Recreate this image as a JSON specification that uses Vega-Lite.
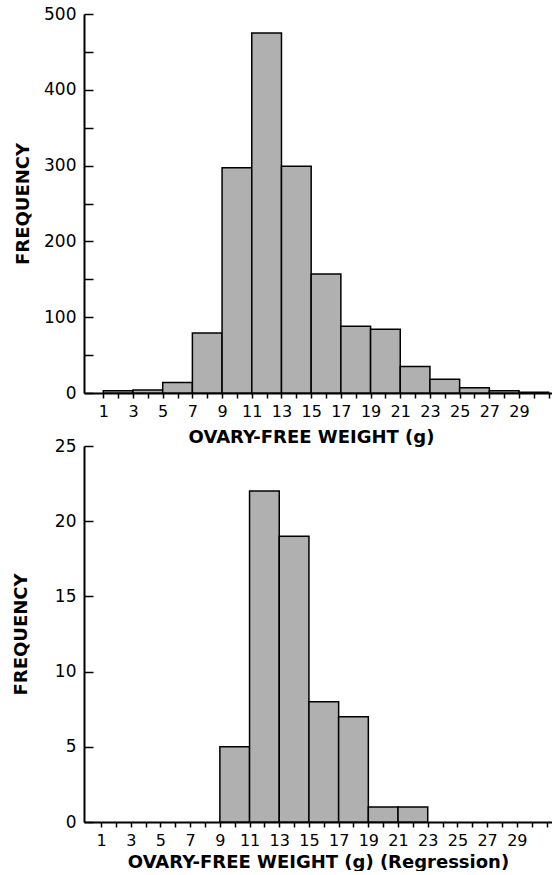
{
  "$schema": "https://vega.github.io/schema/vega-lite/v6.json",
  "padding": {"left": 12, "top": 5, "right": 0, "bottom": 0},
  "background": "white",
  "config": {
    "view": {"stroke": null},
    "font": "DejaVu Sans",
    "axis": {
      "grid": false,
      "domainColor": "black",
      "domainWidth": 2,
      "tickColor": "black",
      "tickWidth": 1.5,
      "labelColor": "black",
      "labelFont": "DejaVu Sans",
      "labelFontSize": 16,
      "labelFontWeight": "normal",
      "labelOverlap": false,
      "labelFlush": false,
      "titleColor": "black",
      "titleFont": "DejaVu Sans",
      "titleFontSize": 18,
      "titleFontWeight": "bold"
    },
    "axisX": {"tickSize": 5, "labelPadding": 5, "titlePadding": 8},
    "axisY": {"tickSize": -9, "labelPadding": 17, "labelFontSize": 17}
  },
  "datasets": {
    "all_fish": [
      {"lo": 1, "hi": 3, "count": 3},
      {"lo": 3, "hi": 5, "count": 4},
      {"lo": 5, "hi": 7, "count": 14},
      {"lo": 7, "hi": 9, "count": 79},
      {"lo": 9, "hi": 11, "count": 297},
      {"lo": 11, "hi": 13, "count": 475},
      {"lo": 13, "hi": 15, "count": 299},
      {"lo": 15, "hi": 17, "count": 157},
      {"lo": 17, "hi": 19, "count": 88},
      {"lo": 19, "hi": 21, "count": 84},
      {"lo": 21, "hi": 23, "count": 35},
      {"lo": 23, "hi": 25, "count": 18},
      {"lo": 25, "hi": 27, "count": 7},
      {"lo": 27, "hi": 29, "count": 3},
      {"lo": 29, "hi": 31, "count": 1}
    ],
    "regression_fish": [
      {"lo": 9, "hi": 11, "count": 5},
      {"lo": 11, "hi": 13, "count": 22},
      {"lo": 13, "hi": 15, "count": 19},
      {"lo": 15, "hi": 17, "count": 8},
      {"lo": 17, "hi": 19, "count": 7},
      {"lo": 19, "hi": 21, "count": 1},
      {"lo": 21, "hi": 23, "count": 1}
    ]
  },
  "bounds": "flush",
  "spacing": 53,
  "vconcat": [
    {
      "width": 468,
      "height": 379,
      "data": {"name": "all_fish"},
      "mark": {"type": "rect", "fill": "#b0b0b0", "stroke": "black", "strokeWidth": 1.5},
      "encoding": {
        "x": {
          "field": "lo",
          "type": "quantitative",
          "scale": {"domain": [-0.3, 31.22], "nice": false, "zero": false},
          "axis": {
            "title": "OVARY-FREE WEIGHT (g)",
            "titleX": 227,
            "titlePadding": 9,
            "values": [1,2,3,4,5,6,7,8,9,10,11,12,13,14,15,16,17,18,19,20,21,22,23,24,25,26,27,28,29,30,31],
            "labelExpr": "datum.value % 2 == 1 && datum.value <= 29 ? datum.label : ''"
          }
        },
        "x2": {"field": "hi"},
        "y": {
          "field": "count",
          "type": "quantitative",
          "scale": {"domain": [0, 500], "nice": false},
          "axis": {
            "title": "FREQUENCY",
            "titlePadding": 11,
            "values": [0,50,100,150,200,250,300,350,400,450,500],
            "labelExpr": "datum.value % 100 == 0 ? datum.label : ''"
          }
        }
      }
    },
    {
      "width": 468,
      "height": 376,
      "data": {"name": "regression_fish"},
      "mark": {"type": "rect", "fill": "#b0b0b0", "stroke": "black", "strokeWidth": 1.5},
      "encoding": {
        "x": {
          "field": "lo",
          "type": "quantitative",
          "scale": {"domain": [-0.15, 31.37], "nice": false, "zero": false},
          "axis": {
            "title": "OVARY-FREE WEIGHT (g) (Regression)",
            "titlePadding": 5,
            "values": [1,2,3,4,5,6,7,8,9,10,11,12,13,14,15,16,17,18,19,20,21,22,23,24,25,26,27,28,29,30,31],
            "labelExpr": "datum.value % 2 == 1 && datum.value <= 29 ? datum.label : ''"
          }
        },
        "x2": {"field": "hi"},
        "y": {
          "field": "count",
          "type": "quantitative",
          "scale": {"domain": [0, 25], "nice": false},
          "axis": {
            "title": "FREQUENCY",
            "titlePadding": 24,
            "values": [0,5,10,15,20,25]
          }
        }
      }
    }
  ]
}
